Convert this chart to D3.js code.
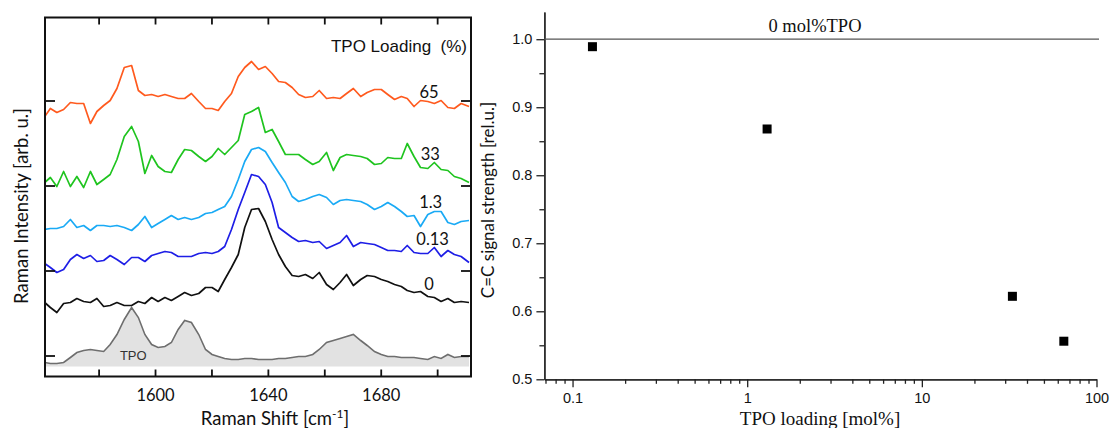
<!DOCTYPE html>
<html>
<head>
<meta charset="utf-8">
<script src="https://cdn.jsdelivr.net/npm/d3@7"></script>
<style>
  html, body { margin: 0; padding: 0; background: #fff; }
  svg { display: block; }
  text { white-space: pre; }
</style>
</head>
<body>
<svg id="chart" width="1111" height="428"></svg>
<script>
// ---- Raman spectra (stacked, arb. u.) ----
const shift = [1560.9,1562.9,1565.2,1567.6,1570.0,1572.3,1574.7,1577.1,1579.4,1581.8,1584.1,1586.5,1589.1,1591.7,1594.1,1596.4,1598.8,1601.1,1603.5,1605.8,1608.2,1610.5,1612.9,1615.5,1617.9,1620.2,1622.4,1624.7,1627.1,1629.5,1631.8,1634.2,1636.7,1639.1,1641.5,1643.8,1646.2,1648.6,1650.9,1653.3,1655.9,1658.2,1660.8,1663.2,1665.6,1667.9,1670.3,1672.9,1675.2,1677.8,1680.2,1682.5,1684.9,1687.3,1689.4,1691.8,1694.1,1696.7,1699.0,1701.4,1703.8,1706.1,1708.5,1711.3];

const tpo65  = [239,247,243,246,253,252,252,232,244,250,255,267,288,290,265,260,261,259,261,259,257,257,262,254,247,247,245,254,262,279,288,294,286,289,282,274,273,268,261,258,259,265,257,258,257,262,267,259,263,266,266,261,256,259,257,249,255,254,252,255,248,247,252,249];
const tpo33  = [173,178,169,184,169,179,168,184,171,176,181,196,219,229,214,182,200,189,184,183,196,206,205,199,194,199,207,201,208,215,241,244,248,223,226,214,201,201,201,196,191,194,203,185,198,201,200,199,197,191,192,198,197,197,212,199,188,187,193,186,185,179,177,173];
const tpo1_3 = [126,127,127,129,136,128,130,125,130,130,129,130,128,125,131,139,128,132,136,140,136,138,136,138,142,143,146,149,159,176,194,206,208,204,193,183,173,159,154,156,159,161,158,151,155,156,155,154,151,146,149,153,149,144,139,140,129,141,144,144,133,131,134,135];
const tpo0_13= [92,88,83,86,96,101,97,100,94,95,100,96,91,98,98,94,100,102,104,103,99,99,99,102,103,102,104,109,126,146,163,181,179,171,153,128,123,118,114,115,113,114,107,110,113,120,109,113,112,111,108,105,105,104,110,103,102,102,108,99,105,101,99,93];
const tpo0   = [53,48,43,52,53,57,54,53,57,49,50,53,50,50,54,52,58,54,58,55,59,63,60,62,68,68,64,76,88,101,128,146,147,134,116,101,89,80,79,81,77,83,71,66,73,81,70,76,80,79,76,74,71,69,65,63,64,59,58,54,57,53,54,53];
const tpoRef = [-7,-8,-8,-7,-2,3,5,6,5,4,11,21,36,48,38,21,11,8,9,13,26,35,33,21,6,1,-1,-3,-4,-4,-3,-3,-4,-4,-4,-3,-3,-2,-1,-1,1,6,13,15,17,19,21,15,10,4,1,-1,-1,-2,-2,-2,-3,-4,-1,-3,1,-2,-1,-1];

const spectra = [
  { name: "65",   values: tpo65,   color: "#ff5a1e", labelAt: [1697.1, 258] },
  { name: "33",   values: tpo33,   color: "#1fc41f", labelAt: [1697.6, 196] },
  { name: "1.3",  values: tpo1_3,  color: "#1aaaf5", labelAt: [1697.7, 148] },
  { name: "0.13", values: tpo0_13, color: "#1e1ee6", labelAt: [1698.4, 111] },
  { name: "0",    values: tpo0,    color: "#111111", labelAt: [1697.1, 66] }
];
const shiftTicks = [1580, 1600, 1620, 1640, 1660, 1680, 1700];
const shiftLabels = [1600, 1640, 1680];
const offsetTicks = [0, 85, 170, 255];

// ---- C=C signal strength vs TPO loading ----
const loading  = [0.13, 1.3, 33, 65];
const strength = [0.989, 0.868, 0.622, 0.556];
const strengthTicks = [0.5, 0.6, 0.7, 0.8, 0.9, 1.0];
const strengthMinor = [0.55, 0.65, 0.75, 0.85, 0.95];
const loadingTicks = [0.1, 1, 10, 100];
const loadingMinor = [0.07,0.08,0.09,0.2,0.3,0.4,0.5,0.6,0.7,0.8,0.9,2,3,4,5,6,7,8,9,20,30,40,50,60,70,80,90];
const reference = 1.0;

const svg = d3.select("#chart");

// ================= left panel: spectra =================
const L = { left: 45, right: 471, top: 17.5, bottom: 376.5 };
const xs = d3.scaleLinear().domain([1561, 1712]).range([L.left, L.right]);
const ys = d3.scaleLinear().domain([-21, 338]).range([L.bottom, L.top]);

const left = svg.append("g");
left.append("clipPath").attr("id", "plotclip")
  .append("rect").attr("x", L.left).attr("y", L.top)
  .attr("width", L.right - L.left).attr("height", L.bottom - L.top);
const plot = left.append("g").attr("clip-path", "url(#plotclip)");

// TPO reference spectrum, filled
const area = d3.area().x((d, i) => xs(shift[i])).y0(ys(-11)).y1(d => ys(d));
const lineOf = d3.line().x((d, i) => xs(shift[i])).y(d => ys(d));
plot.append("path").datum(tpoRef).attr("d", area).attr("fill", "#e2e2e2");
plot.append("path").datum(tpoRef).attr("d", lineOf)
  .attr("fill", "none").attr("stroke", "#6e6e6e").attr("stroke-width", 1.6);

spectra.forEach(s => {
  plot.append("path").datum(s.values).attr("d", lineOf)
    .attr("fill", "none").attr("stroke", s.color)
    .attr("stroke-width", 1.7).attr("stroke-linejoin", "round");
});

// axes (ticks inward, no domain path)
function styleAxis(g) {
  g.select(".domain").remove();
  g.selectAll(".tick line").attr("stroke", "#111").attr("stroke-width", 1.8);
}
left.append("g").attr("transform", `translate(0,${L.bottom})`)
  .call(d3.axisBottom(xs).tickValues(shiftTicks).tickSize(-7).tickPadding(13)
    .tickFormat(d => shiftLabels.includes(d) ? d : ""))
  .call(styleAxis)
  .call(g => g.selectAll("text").attr("font-family", "Lato").attr("font-size", 16.5).attr("fill", "#111"));
left.append("g").attr("transform", `translate(0,${L.top})`)
  .call(d3.axisTop(xs).tickValues(shiftTicks).tickSize(-7).tickFormat(""))
  .call(styleAxis);
left.append("g").attr("transform", `translate(${L.left},0)`)
  .call(d3.axisLeft(ys).tickValues(offsetTicks).tickSize(-10).tickFormat(""))
  .call(styleAxis);
left.append("g").attr("transform", `translate(${L.right},0)`)
  .call(d3.axisRight(ys).tickValues(offsetTicks).tickSize(-10).tickFormat(""))
  .call(styleAxis);
left.append("rect").attr("x", L.left).attr("y", L.top)
  .attr("width", L.right - L.left).attr("height", L.bottom - L.top)
  .attr("fill", "none").attr("stroke", "#111").attr("stroke-width", 2);

// series labels
spectra.forEach(s => {
  left.append("text").attr("x", xs(s.labelAt[0])).attr("y", ys(s.labelAt[1]))
    .attr("text-anchor", "middle").attr("font-family", "Lato").attr("font-size", 16.5)
    .attr("fill", "#111").text(s.name);
});
left.append("text").attr("x", xs(1592.3)).attr("y", ys(-4))
  .attr("text-anchor", "middle").attr("font-family", "Liberation Sans").attr("font-size", 13)
  .attr("fill", "#333").text("TPO");
left.append("text").attr("x", 467).attr("y", 52.3)
  .attr("text-anchor", "end").attr("font-family", "Liberation Sans").attr("font-size", 17)
  .attr("fill", "#111").text("TPO Loading  (%)");

// axis titles
const xt = left.append("text").attr("x", 275).attr("y", 425)
  .attr("text-anchor", "middle").attr("font-family", "Lato").attr("font-size", 18.5).attr("fill", "#111");
xt.append("tspan").text("Raman Shift [cm");
xt.append("tspan").attr("dy", -7).attr("font-size", 12).text("-1");
xt.append("tspan").attr("dy", 7).text("]");
left.append("text").attr("transform", "translate(28,206) rotate(-90)")
  .attr("text-anchor", "middle").attr("font-family", "Lato").attr("font-size", 18.5)
  .attr("fill", "#111").text("Raman Intensity [arb. u.]");

// ================= right panel: signal strength =================
const R = { left: 544.4, right: 1096.5, top: 12, bottom: 379.3 };
const xl = d3.scaleLog().domain([0.069, 100]).range([R.left, R.right]);
const yl = d3.scaleLinear().domain([0.5, 1.04]).range([R.bottom, R.top]);
const right = svg.append("g");

function styleRight(g) {
  g.select(".domain").attr("stroke", "#222").attr("stroke-width", 1.3);
  g.selectAll(".tick line").attr("stroke", "#222").attr("stroke-width", 1.3);
  g.selectAll("text").attr("font-family", "Liberation Sans").attr("font-size", 14.5).attr("fill", "#111");
}
right.append("g").attr("transform", `translate(0,${R.bottom})`)
  .call(d3.axisBottom(xl).tickValues(loadingMinor).tickSize(4.5).tickFormat("").tickSizeOuter(0))
  .call(styleRight);
right.append("g").attr("transform", `translate(0,${R.bottom})`)
  .call(d3.axisBottom(xl).tickValues(loadingTicks).tickSize(8).tickPadding(5)
    .tickFormat(d => d < 1 ? d3.format(".1f")(d) : d3.format("d")(d)).tickSizeOuter(0))
  .call(styleRight);
right.append("g").attr("transform", `translate(${R.left},0)`)
  .call(d3.axisLeft(yl).tickValues(strengthMinor).tickSize(5).tickFormat("").tickSizeOuter(0))
  .call(styleRight);
right.append("g").attr("transform", `translate(${R.left},0)`)
  .call(d3.axisLeft(yl).tickValues(strengthTicks).tickSize(8).tickPadding(4)
    .tickFormat(d3.format(".1f")).tickSizeOuter(0))
  .call(styleRight);

// 0 mol% reference level
right.append("line").attr("x1", R.left).attr("x2", 1099)
  .attr("y1", yl(reference)).attr("y2", yl(reference))
  .attr("stroke", "#555").attr("stroke-width", 1.2);
right.append("text").attr("x", 815).attr("y", 31.7)
  .attr("text-anchor", "middle").attr("font-family", "Liberation Serif").attr("font-size", 18.5)
  .attr("fill", "#111").text("0 mol%TPO");

// data squares
const sq = 9;
right.selectAll("rect.pt").data(loading).join("rect").attr("class", "pt")
  .attr("x", d => xl(d) - sq / 2).attr("y", (d, i) => yl(strength[i]) - sq / 2)
  .attr("width", sq).attr("height", sq).attr("fill", "#000");

// titles
right.append("text").attr("x", 820).attr("y", 425)
  .attr("text-anchor", "middle").attr("font-family", "Liberation Serif").attr("font-size", 19)
  .attr("fill", "#111").text("TPO loading [mol%]");
right.append("text").attr("transform", "translate(494,200) rotate(-90)")
  .attr("text-anchor", "middle").attr("font-family", "Lato").attr("font-size", 17)
  .attr("fill", "#111").text("C=C signal strength [rel.u.]");
</script>
</body>
</html>
